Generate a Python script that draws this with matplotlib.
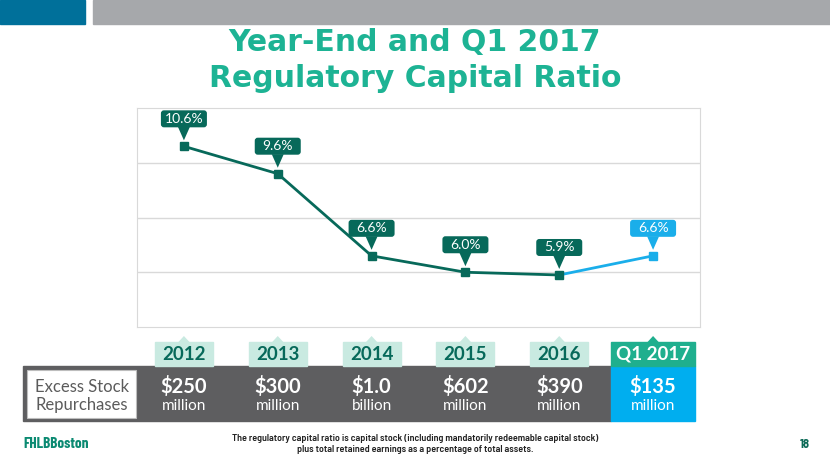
import matplotlib.pyplot as plt
from matplotlib.patches import Rectangle, Polygon, FancyBboxPatch

# -----------------------------
# Data
# -----------------------------

periods = ["2012", "2013", "2014", "2015", "2016", "Q1 2017"]
ratio = [10.6, 9.6, 6.6, 6.0, 5.9, 6.6]
ratio_labels = ["10.6%", "9.6%", "6.6%", "6.0%", "5.9%", "6.6%"]
repurchase_amt = ["$250", "$300", "$1.0", "$602", "$390", "$135"]
repurchase_unit = ["million", "million", "billion", "million", "million", "million"]

title_lines = ["Year-End and Q1 2017", "Regulatory Capital Ratio"]
footnote = ("The regulatory capital ratio is capital stock (including mandatorily redeemable capital stock)\n"
            "plus total retained earnings as a percentage of total assets.")

# -----------------------------
# Colours
# -----------------------------

DARK = "#07695A"
BLUE = "#1AAEEA"
TEAL = "#1DB394"
PALE = "#C9EAE1"
GRAY_BAND = "#5E5E60"
GRID = "#D9D9D9"

W, H = 830, 467
wide = ["DejaVu Sans"]
narrow = ["Barlow Semi Condensed", "Liberation Sans", "DejaVu Sans"]
xnarrow = ["Barlow Condensed", "Liberation Sans", "DejaVu Sans"]
soft = ["Lato", "DejaVu Sans"]

fig = plt.figure(figsize=(W / 100, H / 100), dpi=100)
fig.patch.set_facecolor("white")

# chart area (pixels: left 137, top 108, right 700, bottom 327)
ax = fig.add_axes([137 / W, (H - 327) / H, 563 / W, 219 / H])
x = list(range(len(periods)))
ax.set_xlim(-0.5, len(periods) - 0.5)
ax.set_ylim(4, 12)
ax.set_yticks([6, 8, 10])
ax.set_xticks([])
ax.tick_params(length=0, labelleft=False)
ax.grid(axis="y", color=GRID, lw=1)
for s in ax.spines.values():
    s.set_color(GRID)
ax.set_axisbelow(True)

ax.plot(x[4:], ratio[4:], color=BLUE, lw=2, zorder=3)
ax.plot(x[:5], ratio[:5], color=DARK, lw=2, marker="s", ms=5.5, zorder=4)
ax.plot(x[5:], ratio[5:], color=BLUE, marker="s", ms=5.5, lw=0, zorder=4)

# overlay in pixel coordinates (y from top)
ov = fig.add_axes([0, 0, 1, 1], zorder=5)
ov.set_xlim(0, W)
ov.set_ylim(H, 0)
ov.axis("off")
ov.patch.set_alpha(0)


def to_px(xv, yv):
    px, py = ax.transData.transform((xv, yv))
    return px, H - py


# header bars
ov.add_patch(Rectangle((0, 0), 85, 24, color="#00709A"))
ov.add_patch(Rectangle((93, 0), W - 93, 24, color="#A6A8AB"))

# title
ov.text(415, 51, title_lines[0], ha="center", va="baseline", fontsize=21.5,
        fontweight="bold", color=TEAL, family=wide)
ov.text(415, 87, title_lines[1], ha="center", va="baseline", fontsize=21.5,
        fontweight="bold", color=TEAL, family=wide)

# callouts
for i, (v, lab) in enumerate(zip(ratio, ratio_labels)):
    c = BLUE if i == len(ratio) - 1 else DARK
    px, py = to_px(i, v)
    ov.add_patch(FancyBboxPatch((px - 23, py - 36), 46, 17,
                                boxstyle="round,pad=0,rounding_size=3",
                                fc=c, ec="none"))
    ov.add_patch(Polygon([(px - 6, py - 19.5), (px + 6, py - 19.5), (px, py - 6)],
                         closed=True, fc=c, ec="none"))
    ov.text(px, py - 27.5, lab, ha="center", va="center", fontsize=10,
            color="white", family=soft)

# table
centers = [to_px(i, 4)[0] for i in x]
last = len(periods) - 1
q_left = centers[last] - 42
ov.add_patch(Rectangle((23, 366), q_left - 23, 55, color=GRAY_BAND))
ov.add_patch(Rectangle((q_left, 366), 84, 55, color="#00AEEF"))
ov.add_patch(Rectangle((27, 370), 109, 48, fc="white", ec="#BDBDBD", lw=0.8))
ov.text(35, 387, "Excess Stock", ha="left", va="center", fontsize=12,
        color="#5B5B5B", family=soft)
ov.text(35, 405, "Repurchases", ha="left", va="center", fontsize=12,
        color="#5B5B5B", family=soft)

for i, cx in enumerate(centers):
    if i == last:
        bw, fc, tc = 84, "#1FAF8E", "white"
    else:
        bw, fc, tc = 58, PALE, DARK
    ov.add_patch(Rectangle((cx - bw / 2, 342), bw, 24, color=fc))
    ov.add_patch(Polygon([(cx - 6, 342.5), (cx + 6, 342.5), (cx, 336)],
                         closed=True, fc=fc, ec="none"))
    ov.text(cx, 354.5, periods[i], ha="center", va="center", fontsize=13.5,
            fontweight="bold", color=tc, family=soft)
    ov.text(cx, 387, repurchase_amt[i], ha="center", va="center", fontsize=14.5,
            fontweight="bold", color="white", family=soft)
    ov.text(cx, 406, repurchase_unit[i], ha="center", va="center", fontsize=11,
            color="white", family=soft)

# footer
ov.text(23, 444, "FHLBBoston", ha="left", va="center", fontsize=11,
        fontweight="bold", color="#0B8A72", family=xnarrow)
ov.text(415, 444, footnote, ha="center", va="center", fontsize=7.2,
        fontweight="semibold", color="#222222", family=narrow, linespacing=1.3)
ov.text(805, 444, "18", ha="center", va="center", fontsize=9,
        fontweight="bold", color="#0B6A56", family=narrow)

fig.savefig("out.png", dpi=100)
